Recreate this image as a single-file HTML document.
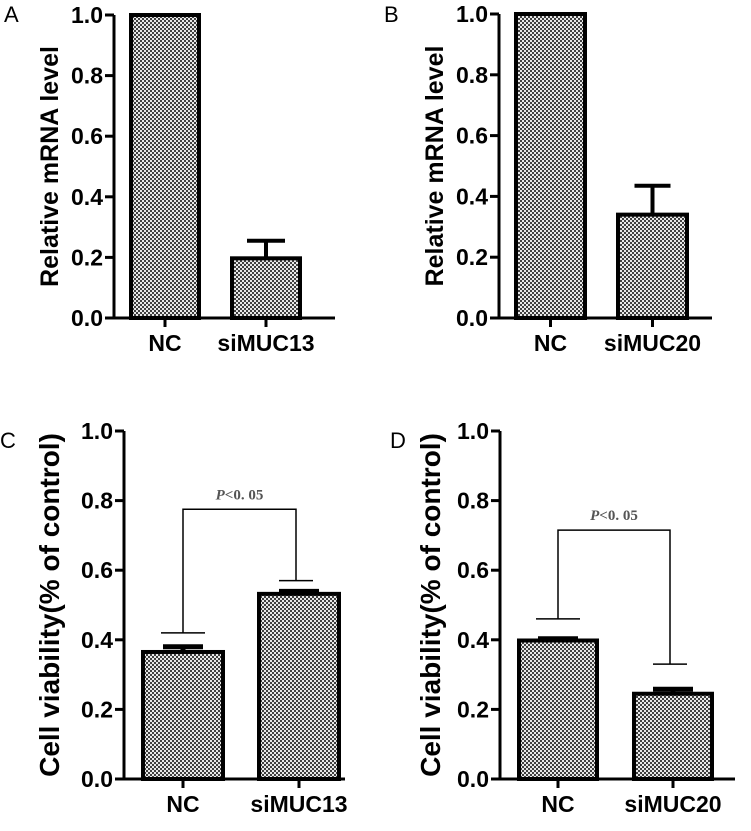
<!DOCTYPE html>
<html><head><meta charset="utf-8">
<style>
body{margin:0;background:#fff;}
svg{display:block;font-family:"Liberation Sans",Arial,sans-serif;}
</style></head>
<body>
<svg id="fig" width="751" height="831" viewBox="0 0 751 831">
<defs>
<pattern id="chk" width="4" height="4" patternUnits="userSpaceOnUse">
<rect width="4" height="4" fill="#e8e8e8"/>
<rect width="2" height="2" fill="#404040"/>
<rect x="2" y="2" width="2" height="2" fill="#404040"/>
</pattern>
</defs>
</svg>
<script>
const categoriesA = ["NC","siMUC13"];
const valuesA = [1.0, 0.197];
const errorsA = [0, 0.058];
const categoriesB = ["NC","siMUC20"];
const valuesB = [1.0, 0.34];
const errorsB = [0, 0.095];
const categoriesC = ["NC","siMUC13"];
const valuesC = [0.365, 0.532];
const errorsC = [0.015, 0.007];
const bracketC = [0.42, 0.57, 0.775];
const categoriesD = ["NC","siMUC20"];
const valuesD = [0.398, 0.245];
const errorsD = [0.005, 0.013];
const bracketD = [0.46, 0.33, 0.715];
const yTicks = [0, 0.2, 0.4, 0.6, 0.8, 1.0];
const yTickLabels = ["0.0","0.2","0.4","0.6","0.8","1.0"];

const svg = document.getElementById('fig');
const NS = 'http://www.w3.org/2000/svg';
function mk(tag, attrs, parent){const e=document.createElementNS(NS,tag);for(const k in attrs)e.setAttribute(k,attrs[k]);(parent||svg).appendChild(e);return e;}

function panel(p){
  const g = mk('g',{});
  
  
  const y = v => p.y0 - v*(p.y0-p.y1);
  const bx = i => p.bars[i];
  const lt = mk('text',{x:p.lx,y:p.ly,'font-size':22,fill:'#000'},g); lt.textContent=p.letter;
  
  
  p.vals.forEach((v,i)=>{
    const r = mk('rect',{x:bx(i),y:y(v),width:p.bw,height:p.y0-y(v),fill:'url(#chk)',stroke:'#000','stroke-width':4},g);
    
    
    const cx = bx(i)+p.bw/2;
    if(p.errs[i]>0){
      const e = mk('path',{d:`M${cx},${y(v)} V${y(v+p.errs[i])} M${cx-p.cap},${y(v+p.errs[i])} H${cx+p.cap}`,stroke:'#000','stroke-width':p.errs[i]<0.03?5:4,fill:'none'},g);
      
      
    }
    const t = mk('path',{d:`M${cx},${p.y0} V${p.y0+9}`,stroke:'#000','stroke-width':3},g);
    
    
    const lab = mk('text',{x:cx,y:p.y0+33,'font-size':23,'font-weight':'bold','text-anchor':'middle'},g);
    lab.textContent = p.cats[i];
    
    
  });
  const ax = mk('path',{d:`M${p.ax},${p.y1} V${p.y0} H${p.xend}`,stroke:'#000','stroke-width':3,fill:'none'},g);
  
  
  yTicks.forEach((v,i)=>{
    const t = mk('path',{d:`M${p.ax-9},${y(v)} H${p.ax}`,stroke:'#000','stroke-width':3},g);
    
    
    const l = mk('text',{x:p.ax-11,y:y(v)+8,'font-size':23,'font-weight':'bold','text-anchor':'end'},g);
    l.textContent = yTickLabels[i];
    
    
  });
  const yt = mk('text',{x:0,y:0,'font-size':p.tfs,'font-weight':'bold','text-anchor':'middle',transform:`translate(${p.tx},${(p.y0+p.y1)/2}) rotate(-90)`},g);
  yt.textContent = p.title;
  
  
  if(p.br){
    const c0 = bx(0)+p.bw/2, c1 = bx(1)+p.bw/2 - 3;
    const b = mk('path',{d:`M${c0-22},${y(p.br[0])} H${c0+22} M${c0},${y(p.br[0])} V${y(p.br[2])} H${c1} V${y(p.br[1])} M${c1-17},${y(p.br[1])} H${c1+17}`,stroke:'#000','stroke-width':1.5,fill:'none'},g);
    
    
    const st = mk('text',{x:(c0+c1)/2,y:y(p.br[2])-10,'font-size':15,'font-weight':'bold','font-family':'"Liberation Serif",serif','text-anchor':'middle',fill:'#555'},g);
    st.innerHTML = '<tspan font-style="italic">P</tspan>&lt;0. 05';
    
    
  }
}
panel({letter:'A',lx:4,ly:22,ax:114,xend:335,y0:318,y1:15,bars:[131,232],bw:68,cats:categoriesA,vals:valuesA,errs:errorsA,cap:19,tx:58,tfs:25,title:'Relative mRNA level'});
panel({letter:'B',lx:384,ly:22,ax:499,xend:712,y0:318,y1:14,bars:[516,618],bw:69,cats:categoriesB,vals:valuesB,errs:errorsB,cap:18,tx:443,tfs:25,title:'Relative mRNA level'});
panel({letter:'C',lx:0,ly:448,ax:124,xend:345,y0:779,y1:431,bars:[143,259],bw:80,cats:categoriesC,vals:valuesC,errs:errorsC,cap:20,tx:59,tfs:28,title:'Cell viability(% of control)',br:bracketC});
panel({letter:'D',lx:390,ly:448,ax:500,xend:735,y0:779,y1:431,bars:[519,634],bw:78,cats:categoriesD,vals:valuesD,errs:errorsD,cap:20,tx:440,tfs:28,title:'Cell viability(% of control)',br:bracketD});
</script>
</body></html>
